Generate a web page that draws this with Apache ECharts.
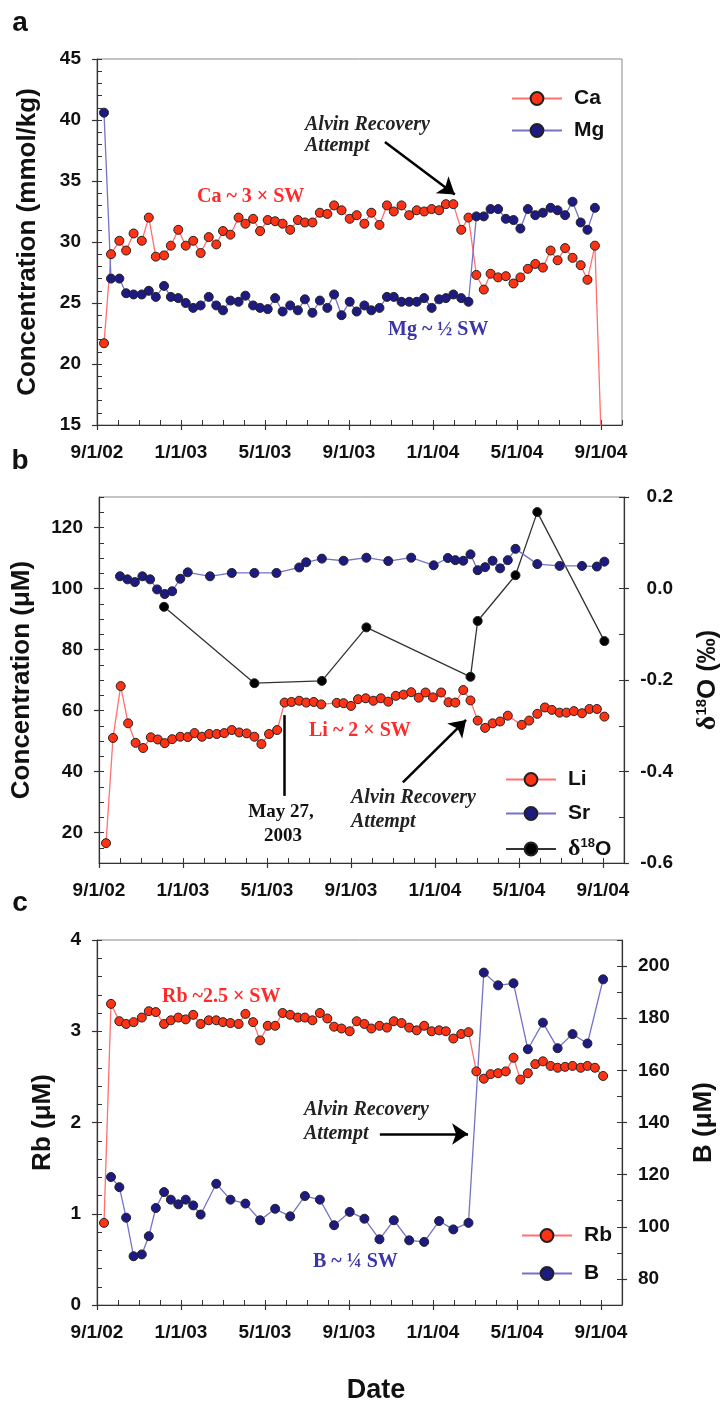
<!DOCTYPE html>
<html><head><meta charset="utf-8">
<script src="https://cdn.jsdelivr.net/npm/echarts@6/dist/echarts.min.js"></script>
<style>html,body{margin:0;padding:0;background:#fff}#c{width:722px;height:1401px}</style>
</head><body><div id="c"></div>
<script>
// ---------- data ----------
const xTickLabels = ['9/1/02','1/1/03','5/1/03','9/1/03','1/1/04','5/1/04','9/1/04'];
const xTickDates  = ['2002-09-01','2003-01-01','2003-05-01','2003-09-01','2004-01-01','2004-05-01','2004-09-01'];

// sampling dates shared by panels a and c
const sampleDates = ['2002-09-11','2002-09-21','2002-10-03','2002-10-13','2002-10-24','2002-11-05','2002-11-15','2002-11-25','2002-12-07','2002-12-17',
'2002-12-28','2003-01-08','2003-01-19','2003-01-30','2003-02-10','2003-02-20','2003-03-01','2003-03-12','2003-03-24','2003-04-03',
'2003-04-14','2003-04-24','2003-05-05','2003-05-16','2003-05-27','2003-06-07','2003-06-18','2003-06-28','2003-07-09','2003-07-20',
'2003-07-31','2003-08-10','2003-08-21','2003-09-02','2003-09-12','2003-09-23','2003-10-03','2003-10-15','2003-10-26','2003-11-05',
'2003-11-16','2003-11-27','2003-12-08','2003-12-19','2003-12-30','2004-01-10','2004-01-20','2004-01-31','2004-02-11','2004-02-21',
'2004-03-03','2004-03-14','2004-03-24','2004-04-04','2004-04-15','2004-04-26','2004-05-06','2004-05-17','2004-05-28','2004-06-08',
'2004-06-19','2004-06-29','2004-07-10','2004-07-21','2004-08-02','2004-08-12','2004-08-23','2004-09-04'];

const caValues = [21.7,29.0,30.1,29.3,30.7,30.1,32.0,28.8,28.9,29.7,31.0,29.7,30.1,29.1,30.4,29.8,30.9,30.6,32.0,31.5,
31.9,30.9,31.8,31.7,31.5,31.0,31.8,31.6,31.6,32.4,32.3,33.0,32.6,31.9,32.2,31.5,32.4,31.4,33.0,32.5,
33.0,32.2,32.6,32.5,32.7,32.6,33.1,33.1,31.0,32.0,27.3,26.1,27.4,27.1,27.2,26.6,27.1,27.8,28.2,27.9,
29.3,28.5,29.5,28.7,28.1,26.9,29.7,9.0];
const mgValues = [40.6,27.0,27.0,25.8,25.7,25.7,26.0,25.5,26.4,25.5,25.4,25.0,24.6,24.8,25.5,24.8,24.4,25.2,25.1,25.6,
24.8,24.6,24.5,25.4,24.3,24.8,24.4,25.3,24.2,25.2,24.6,25.7,24.0,25.1,24.3,24.8,24.4,24.6,25.5,25.5,
25.1,25.1,25.1,25.4,24.6,25.3,25.4,25.7,25.4,25.1,32.1,32.1,32.7,32.7,31.9,31.8,31.1,32.7,32.2,32.4,
32.8,32.6,32.2,33.3,31.6,31.0,32.8,null];

const liDates = ['2002-09-11','2002-09-21','2002-10-02','2002-10-13','2002-10-24','2002-11-04','2002-11-15','2002-11-25','2002-12-05','2002-12-16',
'2002-12-28','2003-01-08','2003-01-18','2003-01-29','2003-02-08','2003-02-18','2003-02-28','2003-03-11','2003-03-22','2003-04-02',
'2003-04-13','2003-04-23','2003-05-04','2003-05-16','2003-05-27','2003-06-06','2003-06-17','2003-06-27','2003-07-08','2003-07-19',
'2003-08-11','2003-08-21','2003-09-01','2003-09-11','2003-09-22','2003-10-03','2003-10-14','2003-10-25','2003-11-05','2003-11-16',
'2003-11-27','2003-12-08','2003-12-18','2003-12-29','2004-01-10','2004-01-21','2004-01-31','2004-02-11','2004-02-21','2004-03-02',
'2004-03-13','2004-03-24','2004-04-04','2004-04-15','2004-05-05','2004-05-16','2004-05-28','2004-06-08','2004-06-18','2004-06-29',
'2004-07-09','2004-07-20','2004-08-01','2004-08-12','2004-08-23','2004-09-03'];
const liValues = [16.5,51.0,68.0,55.8,49.4,47.7,51.2,50.5,49.3,50.6,51.4,51.3,52.6,51.4,52.3,52.3,52.6,53.6,52.8,52.5,
51.4,49.0,52.3,53.6,62.6,62.8,63.2,62.6,62.8,62.0,62.5,62.4,61.5,63.7,64.0,63.2,64.0,62.9,64.8,65.2,
66.0,64.2,65.9,64.3,65.9,62.7,62.6,66.7,63.3,56.7,54.3,55.8,56.4,58.3,55.3,56.7,58.9,61.0,60.2,59.3,
59.3,59.8,59.1,60.5,60.5,58.0];

const srDates = ['2002-10-01','2002-10-12','2002-10-23','2002-11-03','2002-11-14','2002-11-24','2002-12-05','2002-12-16','2002-12-28','2003-01-08',
'2003-02-09','2003-03-11','2003-04-13','2003-05-15','2003-06-17','2003-06-27','2003-07-20','2003-08-21','2003-09-23','2003-10-25',
'2003-11-27','2003-12-30','2004-01-20','2004-01-31','2004-02-11','2004-02-21','2004-03-02','2004-03-13','2004-03-24','2004-04-04',
'2004-04-15','2004-04-26','2004-05-28','2004-06-29','2004-08-01','2004-08-23','2004-09-03'];
const srValues = [104.0,103.0,102.1,104.0,103.0,99.7,98.2,99.1,103.2,105.3,104.0,105.1,105.1,105.1,106.9,108.6,109.8,109.1,110.1,109.0,
110.1,107.6,110.0,109.3,109.1,111.2,106.0,107.0,109.1,106.6,109.3,113.0,108.0,107.4,107.4,107.2,108.8];

const d18ODates = ['2002-12-04','2003-04-13','2003-07-20','2003-09-23','2004-02-21','2004-03-02','2004-04-26','2004-05-28','2004-09-03'];
const d18OValues = [-0.040,-0.207,-0.202,-0.085,-0.193,-0.071,0.029,0.167,-0.115];

const rbValues = [0.90,3.30,3.11,3.08,3.10,3.15,3.22,3.21,3.08,3.12,3.15,3.13,3.18,3.08,3.12,3.12,3.10,3.09,3.08,3.19,
3.10,2.90,3.06,3.06,3.20,3.18,3.15,3.15,3.12,3.20,3.14,3.05,3.03,3.00,3.11,3.08,3.03,3.06,3.04,3.11,
3.09,3.04,3.01,3.06,3.00,3.01,3.00,2.92,2.97,2.99,2.56,2.48,2.53,2.54,2.56,2.71,2.47,2.54,2.64,2.67,
2.62,2.60,2.61,2.62,2.60,2.62,2.60,2.51];

const bDates = ['2002-09-21','2002-10-03','2002-10-13','2002-10-24','2002-11-05','2002-11-15','2002-11-25','2002-12-07','2002-12-17','2002-12-28',
'2003-01-08','2003-01-19','2003-01-30','2003-02-20','2003-03-12','2003-04-03','2003-04-24','2003-05-16','2003-06-07','2003-06-28',
'2003-07-20','2003-08-10','2003-09-02','2003-09-23','2003-10-15','2003-11-05','2003-11-27','2003-12-19','2004-01-10','2004-01-31',
'2004-02-21','2004-03-14','2004-04-04','2004-04-26','2004-05-17','2004-06-08','2004-06-29','2004-07-21','2004-08-12','2004-09-04'];
const bValues = [119.1,115.2,103.5,88.7,89.4,96.4,107.2,113.3,110.4,108.6,110.4,108.2,104.7,116.5,110.4,108.9,102.5,106.9,104.0,111.8,
110.4,100.6,105.7,103.1,95.2,102.5,94.8,94.2,102.2,99.0,101.5,197.5,192.6,193.4,168.1,178.3,168.5,173.9,170.3,194.9];

// ---------- helpers ----------
function toMonth(s){const p=s.split('-').map(Number);const dim=new Date(p[0],p[1],0).getDate();return (p[0]-2002)*12+(p[1]-9)+(p[2]-1)/dim;}
const pairs=(dates,vals)=>dates.map((d,i)=>[toMonth(d),vals[i]]);
const xTickPos = xTickDates.map(toMonth);
const SANS='"Liberation Sans", Arial, Helvetica, sans-serif';
const SERIF='"Liberation Serif", "Times New Roman", serif';
const AX='#333';
const RED_FILL='#ff3214', RED_LINE='#ff7070', BLUE_FILL='#1e1a84', BLUE_LINE='#7672c8';

function xMain(g){return {type:'value',gridIndex:g,position:'bottom',min:0,max:25,
  axisLine:{show:true,onZero:false,lineStyle:{color:AX,width:1.2}},
  axisTick:{show:true,inside:false,length:5,customValues:xTickPos,lineStyle:{color:AX,width:1.2}},
  axisLabel:{show:true,customValues:xTickPos,margin:18,fontSize:19,fontWeight:'bold',color:'#111',fontFamily:SANS,
    formatter:v=>{const i=xTickPos.findIndex(t=>Math.abs(t-v)<1e-6);return i>=0?xTickLabels[i]:'';}},
  splitLine:{show:false}};}
function xMinor(g){return {type:'value',gridIndex:g,position:'bottom',min:0,max:25,interval:1,
  axisLine:{show:false,onZero:false},axisTick:{show:true,inside:true,length:5,lineStyle:{color:AX,width:1}},
  axisLabel:{show:false},splitLine:{show:false}};}
function yMain(g,pos,o){const a={type:'value',gridIndex:g,position:pos,min:o.min,max:o.max,
  axisLine:{show:true,onZero:false,lineStyle:{color:AX,width:1.2}},
  axisTick:{show:true,inside:false,length:5,lineStyle:{color:AX,width:1.2}},
  axisLabel:{show:true,margin:o.margin||16,fontSize:19,fontWeight:'bold',color:'#111',fontFamily:SANS},
  splitLine:{show:false},
  name:o.name,nameLocation:'middle',nameGap:o.nameGap,nameRotate:90,
  nameTextStyle:Object.assign({fontSize:26,fontWeight:'bold',color:'#111',fontFamily:SANS},o.nameStyle||{})};
  if(o.interval!=null)a.interval=o.interval;
  if(o.custom){a.axisTick.customValues=o.custom;a.axisLabel.customValues=o.custom;}
  if(o.fmt)a.axisLabel.formatter=o.fmt;
  if(o.align)a.axisLabel.align=o.align;
  return a;}
function yMinor(g,pos,min,max,interval){return {type:'value',gridIndex:g,position:pos,min:min,max:max,interval:interval,
  axisLine:{show:false,onZero:false},axisTick:{show:true,inside:true,length:5,lineStyle:{color:AX,width:1}},
  axisLabel:{show:false},splitLine:{show:false}};}

function lineSeries(name,xi,yi,data,fill,line,extra){return Object.assign({name:name,type:'line',xAxisIndex:xi,yAxisIndex:yi,data:data,
  symbol:'circle',symbolSize:9,showSymbol:true,connectNulls:false,clip:true,
  lineStyle:{color:line,width:1.3},itemStyle:{color:fill,borderColor:'#222',borderWidth:1},
  emphasis:{disabled:true},z:3},extra||{});}
function arrowItem(from,to){return [{coord:from,symbol:'none'},{coord:to,symbol:'arrow',symbolSize:16}];}
function markLines(items){return {silent:true,symbol:['none','arrow'],symbolSize:16,
  lineStyle:{color:'#000',width:2.5,type:'solid'},itemStyle:{color:'#000'},label:{show:false},emphasis:{disabled:true},animation:false,
  data:items};}

// annotation geometry (data coordinates)
const arrowA = [[13.71,38.2],[17.04,33.9]];
const arrowB = [[14.47,36.4],[17.48,56.9]];
const mayLine = [[toMonth('2003-05-27'),58.5],[toMonth('2003-05-27'),32.0]];
const arrowC = [[13.47,1.874],[17.67,1.874]];

const legendText={fontSize:21,fontWeight:'bold',color:'#111',fontFamily:SANS,padding:[0,0,0,7],
  rich:{d:{fontFamily:SERIF,fontSize:24,color:'#111'},s:{fontSize:13,fontWeight:'bold',fontFamily:SANS,verticalAlign:'top',lineHeight:12,color:'#111'},o:{fontSize:21,fontWeight:'bold',fontFamily:SANS,color:'#111'}}};
function legend(names,left,top,gap){return {data:names,left:left,top:top,orient:'vertical',align:'left',itemWidth:50,itemHeight:16,itemGap:gap,
  textStyle:legendText,selectedMode:false,formatter:n=>n==='δ18O'?'{d|δ}{s|18}{o|O}':n};}

function txt(x,y,s,font,fill,align){return {type:'text',x:x,y:y,silent:true,style:{text:s,font:font,fill:fill,textAlign:align||'left',textVerticalAlign:'middle',align:align||'left',verticalAlign:'middle'}};}
const ANN='bold italic 20px '+SERIF;
const gridBase={show:true,borderColor:'#888',borderWidth:1,backgroundColor:'transparent',containLabel:false,outerBoundsMode:'none'};

const option={
  animation:false,
  backgroundColor:'#fff',
  grid:[
    Object.assign({left:97,top:59,width:525,height:366},gridBase),
    Object.assign({left:99,top:497,width:525,height:366},gridBase),
    Object.assign({left:97,top:940,width:525,height:365},gridBase)
  ],
  xAxis:[xMain(0),xMinor(0),xMain(1),xMinor(1),xMain(2),xMinor(2)],
  yAxis:[
    yMain(0,'left',{min:15,max:45,interval:5,name:'Concentration (mmol/kg)',nameGap:56}),
    yMinor(0,'left',15,45,1),
    yMain(1,'left',{min:10,max:130,custom:[20,40,60,80,100,120],name:'Concentration (μM)',nameGap:64}),
    yMinor(1,'left',10,130,5),
    yMain(1,'right',{min:-0.6,max:0.2,interval:0.2,align:'right',margin:49,
      fmt:v=>(Math.abs(v)<1e-9?0:v).toFixed(1),
      name:'{d|δ}{s|18}{o|O} {p|(‰)}',nameGap:70,
      nameStyle:{rich:{d:{fontFamily:SERIF,fontSize:28,color:'#111'},s:{fontSize:15,fontFamily:SANS,verticalAlign:'top',lineHeight:14,color:'#111'},o:{fontSize:26,fontWeight:'bold',fontFamily:SANS,color:'#111'},p:{fontSize:25,fontFamily:SANS,color:'#111'}}}}),
    yMinor(1,'right',-0.6,0.2,0.1),
    yMain(2,'left',{min:0,max:4,interval:1,name:'Rb (μM)',nameGap:41}),
    yMinor(2,'left',0,4,0.2),
    yMain(2,'right',{min:70,max:210,custom:[80,100,120,140,160,180,200],margin:16,name:'B (μM)',nameGap:69}),
    yMinor(2,'right',70,210,10)
  ],
  legend:[
    legend(['Ca','Mg'],506,83,11),
    legend(['Li','Sr','δ18O'],500,764,13),
    legend(['Rb','B'],516,1220,17)
  ],
  series:[
    lineSeries('Ca',0,0,pairs(sampleDates,caValues),RED_FILL,RED_LINE,{markLine:markLines([arrowItem(arrowA[0],arrowA[1])])}),
    lineSeries('Mg',0,0,pairs(sampleDates,mgValues),BLUE_FILL,BLUE_LINE),
    lineSeries('Li',2,2,pairs(liDates,liValues),RED_FILL,RED_LINE,{markLine:markLines([arrowItem(arrowB[0],arrowB[1]),
      [{coord:mayLine[0],symbol:'none'},{coord:mayLine[1],symbol:'none'}]])}),
    lineSeries('Sr',2,2,pairs(srDates,srValues),BLUE_FILL,BLUE_LINE),
    lineSeries('δ18O',2,4,pairs(d18ODates,d18OValues),'#000','#333',{z:2}),
    lineSeries('Rb',4,6,pairs(sampleDates,rbValues),RED_FILL,RED_LINE,{markLine:markLines([arrowItem(arrowC[0],arrowC[1])])}),
    lineSeries('B',4,8,pairs(bDates,bValues),BLUE_FILL,BLUE_LINE)
  ],
  graphic:[
    txt(20,23,'a','bold 28px '+SANS,'#111','center'),
    txt(20,461,'b','bold 28px '+SANS,'#111','center'),
    txt(20,903,'c','bold 28px '+SANS,'#111','center'),
    txt(305,125,'Alvin Recovery',ANN,'#222'),
    txt(305,146,'Attempt',ANN,'#222'),
    txt(197,197,'Ca ~ 3 × SW','bold 20px '+SERIF,'#ff2a2a'),
    txt(388,330,'Mg ~ ½ SW','bold 20px '+SERIF,'#3a35a8'),
    txt(309,731,'Li ~ 2 × SW','bold 20px '+SERIF,'#ff2a2a'),
    txt(281,812,'May 27,','bold 19px '+SERIF,'#111','center'),
    txt(283,836,'2003','bold 19px '+SERIF,'#111','center'),
    txt(351,798,'Alvin Recovery',ANN,'#222'),
    txt(351,822,'Attempt',ANN,'#222'),
    txt(162,997,'Rb ~2.5 × SW','bold 20px '+SERIF,'#ff2a2a'),
    txt(304,1110,'Alvin Recovery',ANN,'#222'),
    txt(304,1134,'Attempt',ANN,'#222'),
    txt(313,1262,'B ~ ¼ SW','bold 20px '+SERIF,'#3a35a8'),
    txt(376,1391,'Date','bold 27px '+SANS,'#111','center')
  ]
};
const chart=echarts.init(document.getElementById('c'),null,{renderer:'canvas'});
chart.setOption(option);
</script></body></html>
